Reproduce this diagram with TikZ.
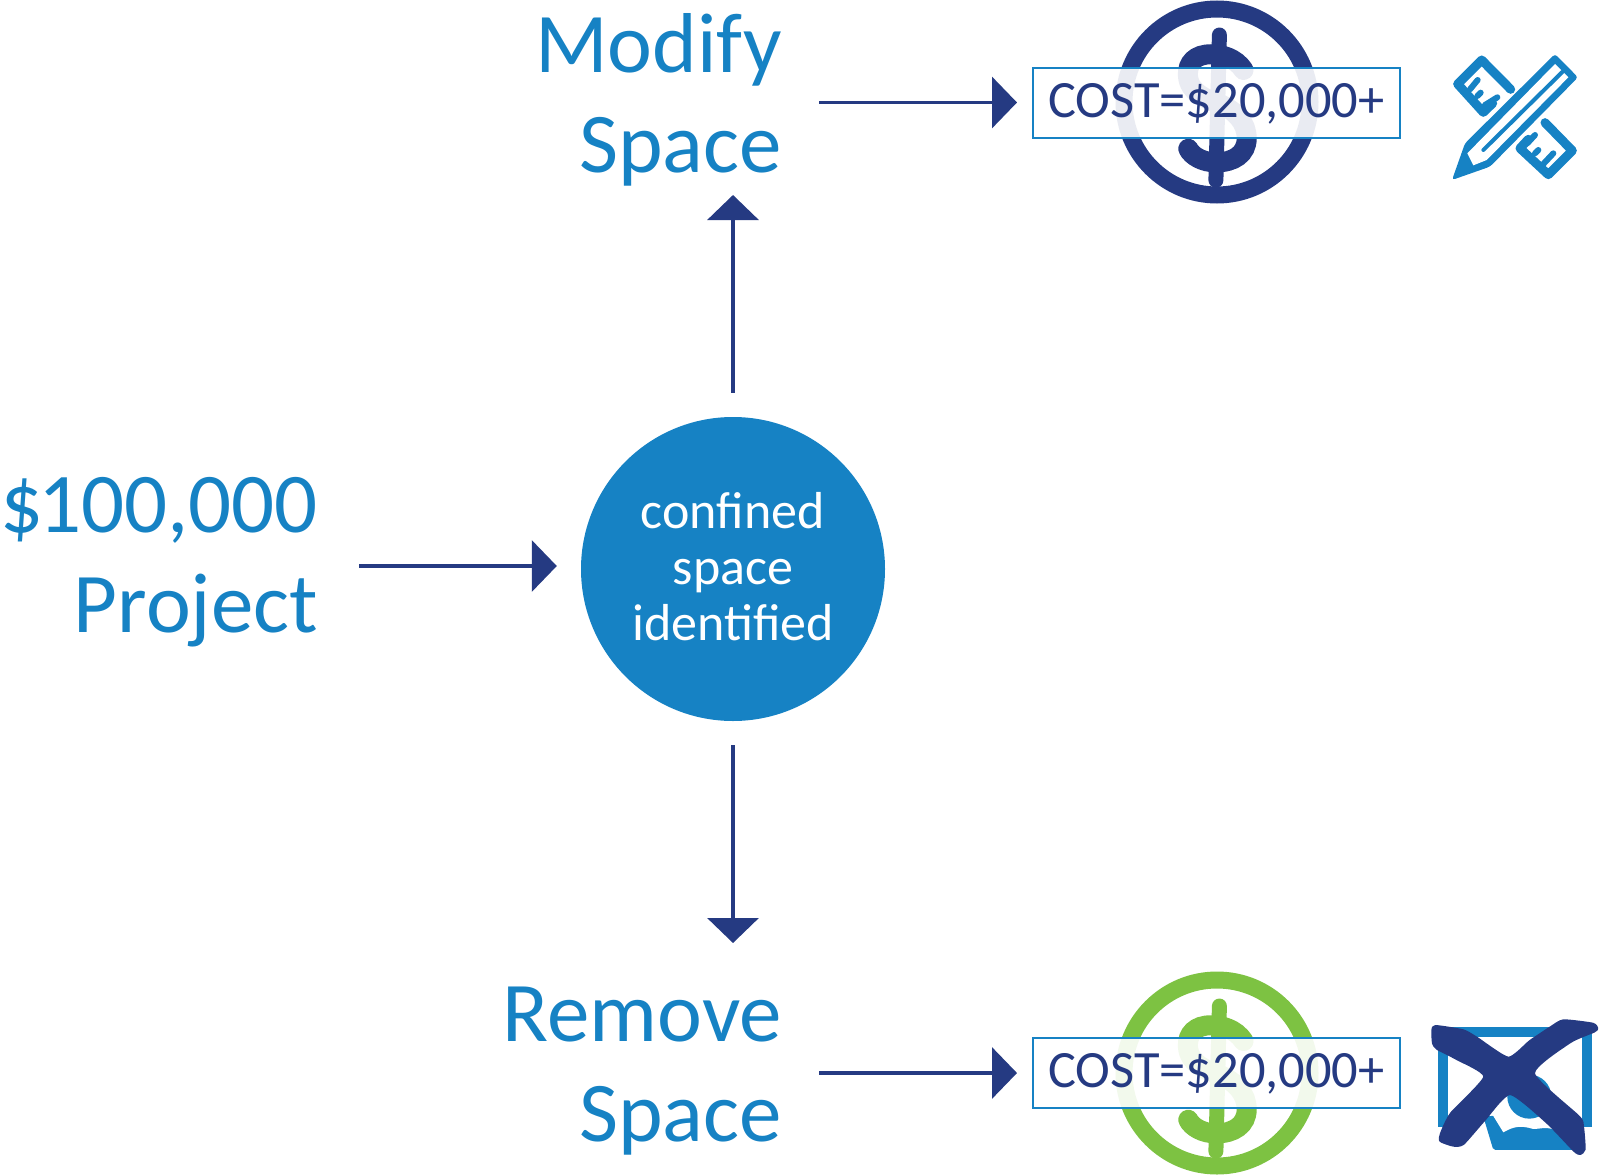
\documentclass[tikz,border=0pt]{standalone}
\usepackage{fontspec}
\setmainfont{Carlito}
\usetikzlibrary{arrows.meta}

\definecolor{topicblue}{HTML}{1682C4}
\definecolor{navyblue}{HTML}{253A82}
\definecolor{coingreen}{HTML}{7DC242}

\tikzset{
  flow/.style={draw=navyblue,line width=3.5pt,-{Triangle[length=25pt,width=51pt]}},
  biglabel/.style={text=topicblue,anchor=east,align=right,inner sep=0pt,font=\fontsize{85}{100}\selectfont},
  costbox/.style={draw=topicblue,line width=2pt,fill=white,fill opacity=0.9,text opacity=1,
    text=navyblue,minimum width=367pt,minimum height=70pt,inner sep=0pt,text height=37pt,text depth=8pt,
    font=\fontsize{52.4}{56}\selectfont},
  iconline/.style={draw=topicblue,line width=9pt,line join=round,line cap=round},
  tick/.style={draw=topicblue,line width=6pt,line cap=round}
}

\begin{document}
\begin{tikzpicture}[x=1pt,y=-1pt]
  \useasboundingbox (0,0) rectangle (1599,1175);

  % Monedas detras de los recuadros
  \foreach \cy/\coincol in {102/navyblue,1073/coingreen} {
    \draw[\coincol,line width=17pt] (1217,\cy) circle (93pt);
    \begin{scope}[shift={(1050,\cy-102)},x=0.35pt,y=-0.35pt]
      \draw[\coincol,line width=15pt,line cap=round] (484,100) -- (474,515);
      \draw[\coincol,line width=20pt,line cap=round] (553,200) .. controls (530,165) and (490,155) .. (460,155)
        .. controls (415,155) and (392,180) .. (394,215) .. controls (396,265) and (450,285) .. (480,295)
        .. controls (530,315) and (562,350) .. (562,395) .. controls (562,440) and (525,464) .. (475,464)
        .. controls (435,464) and (405,445) .. (395,425);
    \end{scope}
  }

  % Nodos
  \node[circle,fill=topicblue,minimum size=304pt,inner sep=0pt,text=white,align=center,
    font=\fontsize{52}{56}\selectfont] (hub) at (733,569) {confined\\space\\identified\rule[-5pt]{0pt}{5pt}};
  \node[biglabel] (projectlabel) at (318,562) {\$\kern-5pt 100,000\\Project};
  \node[biglabel] (modifylabel) at (782,100) {Modify\\Space};
  \node[biglabel] (removelabel) at (782,1071) {Remove\\Space};
  \node[costbox] (costtop) at (1216.5,102.5) {COST=\$20,000+};
  \node[costbox] (costbottom) at (1216.5,1073) {COST=\$20,000+};

  % Flechas
  \draw[flow,shorten <=41pt,shorten >=24pt] ([yshift=3pt]projectlabel.east |- hub.west) -- ([yshift=3pt]hub.west);
  \draw[flow,shorten <=24pt] (hub.north) -- (hub.north |- 0,195);
  \draw[flow,shorten <=24pt] (hub.south) -- (hub.south |- 0,943);
  \draw[flow,shorten <=37pt,shorten >=15pt] (modifylabel.east |- costtop.west) -- (costtop.west);
  \draw[flow,shorten <=37pt,shorten >=15pt] (removelabel.east |- costbottom.west) -- (costbottom.west);

  % Lapiz y reglas
  \begin{scope}[shift={(1440,40)},x=0.3333pt,y=-0.3333pt]
    \fill[topicblue,rounded corners=3pt] (36,420) -- (75,310) -- (345,42) -- (414,112) -- (150,380) -- cycle;
    \fill[white] (82,340) -- (345,72) -- (385,112) -- (140,360) -- (100,376) -- cycle;
    \draw[topicblue,line width=4pt,line cap=round] (130,330) -- (368,95);
    \draw[iconline] (212,148) -- (125,60) -- (53,132) -- (130,217) -- (158,190);
    \draw[tick] (90,148) -- (113,120);
    \draw[tick] (112,168) -- (122,158);
    \draw[tick] (135,195) -- (172,172);
    \draw[iconline] (315,248) -- (397,332) -- (325,404) -- (240,325) -- (265,298);
    \draw[tick] (262,310) -- (285,285);
    \draw[tick] (285,340) -- (295,330);
    \draw[tick] (310,372) -- (340,340);
  \end{scope}

  % Imagen tachada
  \begin{scope}[shift={(1420,1010)},x=0.3333pt,y=-0.3333pt]
    \draw[topicblue,line width=10pt,line join=round] (70,350) -- (70,66) -- (500,66) -- (500,350);
    \fill[topicblue,rounded corners=2pt] (190,320) -- (220,420) -- (465,420) -- (420,300) -- cycle;
    \fill[white] (215,310) -- (250,367) .. controls (280,350) and (300,345) .. (340,357) .. controls (360,357) and (375,350) .. (400,358) -- (400,200) -- (300,200) -- cycle;
    \fill[topicblue] (328,260) circle (22pt);
    \filldraw[navyblue,line width=2pt,line join=round] plot[smooth cycle,tension=0.35] coordinates {(37,60) (47,48) (130,61) (170,83) (265,143) (330,93) (390,53) (430,31) (518,41) (532,55) (522,65) (450,97) (342,190) (477,320) (489,350) (494,418) (480,432) (462,422) (380,337) (270,252) (192,332) (130,402) (100,407) (61,393) (63,370) (93,310) (193,200) (110,147) (52,117) (39,100)};
  \end{scope}
\end{tikzpicture}
\end{document}
